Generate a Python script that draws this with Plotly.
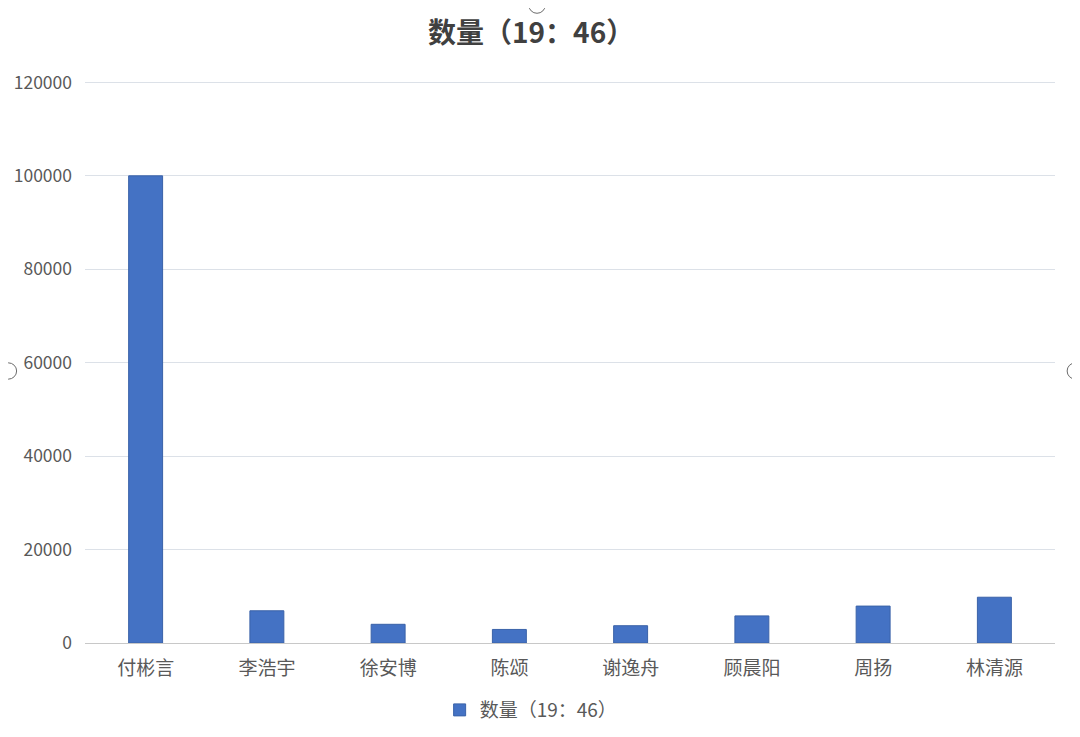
import plotly.graph_objects as go

# chart data
names = ["付彬言", "李浩宇", "徐安博", "陈颂", "谢逸舟", "顾晨阳", "周扬", "林清源"]
counts = [100000, 6900, 4000, 2900, 3700, 5800, 7900, 9800]
series_name = "数量（19：46）"
y_ticks = [0, 20000, 40000, 60000, 80000, 100000, 120000]

font_family = "Noto Sans CJK SC, Noto Sans, sans-serif"

fig = go.Figure()
fig.add_trace(
    go.Bar(
        x=names,
        y=counts,
        name=series_name,
        marker=dict(color="#4472C4", line=dict(color="#3A62A8", width=1)),
    )
)

# the page body adds an 8px offset, so the figure is a bit smaller
fig.update_layout(
    width=1072,
    height=729,
    margin=dict(l=77, r=25, t=73, b=94),
    paper_bgcolor="white",
    plot_bgcolor="white",
    bargap=0.72,
    showlegend=True,
    font=dict(family=font_family, color="#595959", size=16),
    title=dict(
        text="<b>" + series_name + "</b>",
        x=0.488,
        xanchor="center",
        y=0.965,
        yanchor="middle",
        font=dict(size=28, color="#404040", family=font_family),
    ),
    legend=dict(
        orientation="h",
        xref="container",
        yref="container",
        x=0.488,
        xanchor="center",
        y=0.037,
        yanchor="middle",
        font=dict(size=19, color="#595959"),
    ),
)

fig.update_xaxes(
    automargin=False,
    showgrid=False,
    showline=True,
    linecolor="#C8C8C8",
    linewidth=1,
    ticks="",
    ticklabelstandoff=8,
    tickfont=dict(size=19),
)
fig.update_yaxes(
    automargin=False,
    range=[0, 120300],
    tickvals=y_ticks,
    ticktext=[str(v) for v in y_ticks],
    showgrid=True,
    gridcolor="#DCE1E8",
    gridwidth=1,
    zeroline=False,
    showline=False,
    ticks="",
    ticklabelstandoff=12,
    tickfont=dict(size=17.5),
)

# selection handles seen around the chart frame
for cx, cy in [(0.466, 1.135), (-0.079, 0.484), (1.021, 0.484)]:
    fig.add_shape(
        type="circle",
        xref="paper",
        yref="paper",
        x0=cx - 0.0085,
        x1=cx + 0.0085,
        y0=cy - 0.0145,
        y1=cy + 0.0145,
        line=dict(color="#6b6b6b", width=1),
        fillcolor="white",
    )

fig.write_html("out.html")
